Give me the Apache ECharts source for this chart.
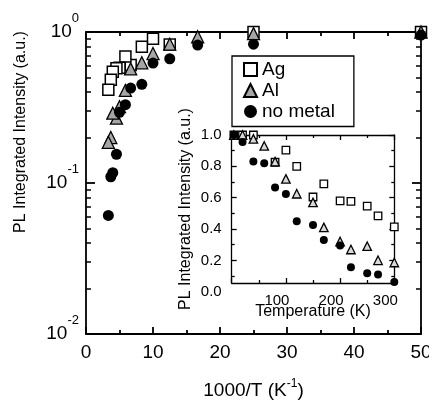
<!DOCTYPE html>
<html>
<head>
<meta charset="utf-8">
<script src="https://cdn.jsdelivr.net/npm/echarts@6/dist/echarts.min.js"></script>
<style>
html, body { margin: 0; padding: 0; background: #fff; }
#chart { width: 429px; height: 401px; }
</style>
</head>
<body>
<div id="chart"></div>
<script>
// measurement temperatures (K)
var temps = [4, 20, 40, 60, 80, 100, 120, 150, 170, 200, 220, 250, 270, 300];
// normalised PL intensity per temperature (null = not measured)
var agValues      = [1.0, 1.0, 1.0, null, 0.826, 0.903, 0.80, 0.604, 0.688, 0.579, 0.576, 0.546, 0.483, 0.414];
var alValues      = [1.0, 1.0, 0.975, 0.93, 0.83, 0.72, 0.625, 0.57, 0.41, 0.32, 0.269, 0.29, 0.20, 0.186];
var noMetalValues = [1.0, 0.955, 0.83, 0.82, 0.665, 0.623, 0.45, 0.425, 0.33, 0.294, 0.155, 0.117, 0.11, 0.061];

var seriesNames = ['Ag', 'Al', 'no metal'];

var mainXTicks = [0, 10, 20, 30, 40, 50];
var mainYTicks = [0.01, 0.1, 1];
var mainYTickSup = ['-2', '-1', '0'];
var mainYMinorTicks = [0.02, 0.03, 0.04, 0.05, 0.06, 0.07, 0.08, 0.09,
                       0.2, 0.3, 0.4, 0.5, 0.6, 0.7, 0.8, 0.9];
var insetXTicks = [100, 200, 300];
var insetYTicks = [0, 0.2, 0.4, 0.6, 0.8, 1.0];
var insetYMajorTicks = [0.2, 0.4, 0.6, 0.8, 1.0];
var insetYMinorTicks = [0.1, 0.3, 0.5, 0.7, 0.9];

var FONT = 'Liberation Sans';
var BLACK = '#000';

var invT = temps.map(function (t) { return 1000 / t; });

function pairs(xs, ys, maxX) {
	var out = [];
	for (var i = 0; i < xs.length; i++) {
		if (ys[i] == null) continue;
		if (maxX != null && xs[i] > maxX) continue;
		out.push([xs[i], ys[i]]);
	}
	return out;
}

function lineStyle(w) {
	return { color: BLACK, width: w };
}

// y axis that only draws ticks (and optionally the line)
function tickYAxis(grid, type, min, max, pos, ticks, len, showLine, w) {
	return {
		gridIndex: grid, type: type, min: min, max: max, position: pos,
		axisLine: { show: showLine, lineStyle: lineStyle(w) },
		axisTick: { show: true, inside: true, length: len, customValues: ticks, lineStyle: lineStyle(w) },
		axisLabel: { show: false },
		splitLine: { show: false }
	};
}

function frameXAxis(grid, min, max, interval, pos, major, minor, w) {
	return {
		gridIndex: grid, type: 'value', min: min, max: max, interval: interval, position: pos,
		axisLine: { show: true, onZero: false, lineStyle: lineStyle(w) },
		axisTick: { show: true, inside: true, length: major, lineStyle: lineStyle(w) },
		minorTick: { show: true, splitNumber: 2, length: minor, lineStyle: lineStyle(w) },
		axisLabel: { show: false },
		splitLine: { show: false }
	};
}

var mainBottom = frameXAxis(0, 0, 50, 10, 'bottom', 7, 4, 1.8);
mainBottom.axisLabel = { show: true, customValues: mainXTicks, color: BLACK, fontSize: 19, fontFamily: FONT, margin: 9 };
mainBottom.name = '1000/T (K{s|-1})';
mainBottom.nameLocation = 'middle';
mainBottom.nameGap = 47;
mainBottom.nameTextStyle = {
	color: BLACK, fontSize: 19, fontFamily: FONT, lineHeight: 19,
	rich: { s: { fontSize: 12, lineHeight: 12, fontFamily: FONT, color: BLACK, padding: [0, 0, 13, 0] } }
};

var mainLeft = tickYAxis(0, 'log', 0.01, 1, 'left', mainYTicks, 9, true, 1.8);
mainLeft.logBase = 10;
mainLeft.axisLabel = {
	show: true, margin: 7,
	formatter: function (v) {
		var best = 0;
		for (var i = 1; i < mainYTicks.length; i++) {
			if (Math.abs(Math.log(v / mainYTicks[i])) < Math.abs(Math.log(v / mainYTicks[best]))) best = i;
		}
		return '{b|10}{s|' + mainYTickSup[best] + '}';
	},
	rich: {
		b: { fontSize: 19, lineHeight: 19, fontFamily: FONT, color: BLACK },
		s: { fontSize: 13, lineHeight: 13, fontFamily: FONT, color: BLACK, padding: [0, 0, 28, 0] }
	}
};

var insetBottom = frameXAxis(1, 0, 300, 100, 'bottom', 5, 3, 1.3);
insetBottom.name = 'Temperature (K)';
insetBottom.nameLocation = 'middle';
insetBottom.nameGap = 21;
insetBottom.nameTextStyle = { color: BLACK, fontSize: 16, fontFamily: FONT };

var insetLeft = tickYAxis(1, 'value', 0.055, 1, 'left', insetYMajorTicks, 5, true, 1.3);
insetLeft.name = 'PL Integrated Intensity (a.u.)';
insetLeft.nameLocation = 'middle';
insetLeft.nameGap = 38;
insetLeft.nameTextStyle = { color: BLACK, fontSize: 16, fontFamily: FONT };

function scatter(name, symbol, size, fill, border, xi, yi, data) {
	return {
		type: 'scatter', name: name, xAxisIndex: xi, yAxisIndex: yi,
		symbol: symbol, symbolSize: size, clip: false,
		itemStyle: { color: fill, borderColor: BLACK, borderWidth: border, opacity: 1 },
		emphasis: { disabled: true },
		data: data
	};
}

var option = {
	animation: false,
	backgroundColor: '#fff',
	grid: [
		{ left: 86, top: 32, width: 335, height: 302, outerBoundsMode: 'none' },
		{ left: 231.7, top: 135, width: 162.6, height: 148, outerBoundsMode: 'none' },
		// labels of the inset sit a little apart from its frame
		{ left: 222.7, top: 135, width: 162.6, height: 156.7, outerBoundsMode: 'none' }
	],
	xAxis: [
		mainBottom,
		frameXAxis(0, 0, 50, 10, 'top', 7, 4, 1.8),
		insetBottom,
		frameXAxis(1, 0, 300, 100, 'top', 5, 3, 1.3),
		{
			gridIndex: 2, type: 'value', min: 0, max: 300, interval: 100,
			axisLine: { show: false }, axisTick: { show: false }, splitLine: { show: false },
			axisLabel: { customValues: insetXTicks, color: BLACK, fontSize: 15, fontFamily: FONT, margin: 2 }
		}
	],
	yAxis: [
		mainLeft,
		tickYAxis(0, 'log', 0.01, 1, 'left', mainYMinorTicks, 5, false, 1.5),
		tickYAxis(0, 'log', 0.01, 1, 'right', mainYTicks, 9, true, 1.8),
		tickYAxis(0, 'log', 0.01, 1, 'right', mainYMinorTicks, 5, false, 1.5),
		insetLeft,
		tickYAxis(1, 'value', 0.055, 1, 'left', insetYMinorTicks, 3, false, 1.3),
		tickYAxis(1, 'value', 0.055, 1, 'right', insetYMajorTicks, 5, true, 1.3),
		tickYAxis(1, 'value', 0.055, 1, 'right', insetYMinorTicks, 3, false, 1.3),
		{
			gridIndex: 2, type: 'value', min: 0, max: 1, interval: 0.2,
			axisLine: { show: false }, axisTick: { show: false }, splitLine: { show: false },
			axisLabel: {
				customValues: insetYTicks, color: BLACK, fontSize: 15, fontFamily: FONT, margin: 1,
				formatter: function (v) { return v.toFixed(1); }
			}
		}
	],
	legend: {
		orient: 'vertical', left: 232, top: 56,
		data: seriesNames, selectedMode: false,
		itemWidth: 13, itemHeight: 13, itemGap: 0,
		padding: [3, 19, 4.5, 11],
		borderColor: BLACK, borderWidth: 1.3, backgroundColor: '#fff',
		textStyle: { color: BLACK, fontSize: 19, fontFamily: FONT, lineHeight: 21 }
	},
	graphic: [{
		type: 'text', x: 20.5, y: 132, rotation: Math.PI / 2,
		style: {
			text: 'PL Integrated Intensity (a.u.)', fill: BLACK,
			fontSize: 16, fontFamily: FONT, align: 'center', verticalAlign: 'middle'
		}
	}],
	series: [
		scatter(seriesNames[0], 'rect', 11, '#fff', 1.5, 0, 0, pairs(invT, agValues, 50)),
		scatter(seriesNames[1], 'triangle', 12, '#a6a6a6', 1.3, 0, 0, pairs(invT, alValues, 50)),
		scatter(seriesNames[2], 'circle', 11, BLACK, 0, 0, 0, pairs(invT, noMetalValues, 50)),
		scatter(seriesNames[0], 'rect', 7.5, '#fff', 1.3, 2, 4, pairs(temps, agValues)),
		scatter(seriesNames[1], 'triangle', 8.5, '#d9d9d9', 1.3, 2, 4, pairs(temps, alValues)),
		scatter(seriesNames[2], 'circle', 8, BLACK, 0, 2, 4, pairs(temps, noMetalValues))
	]
};

var chart = echarts.init(document.getElementById('chart'));
chart.setOption(option);
</script>
</body>
</html>
